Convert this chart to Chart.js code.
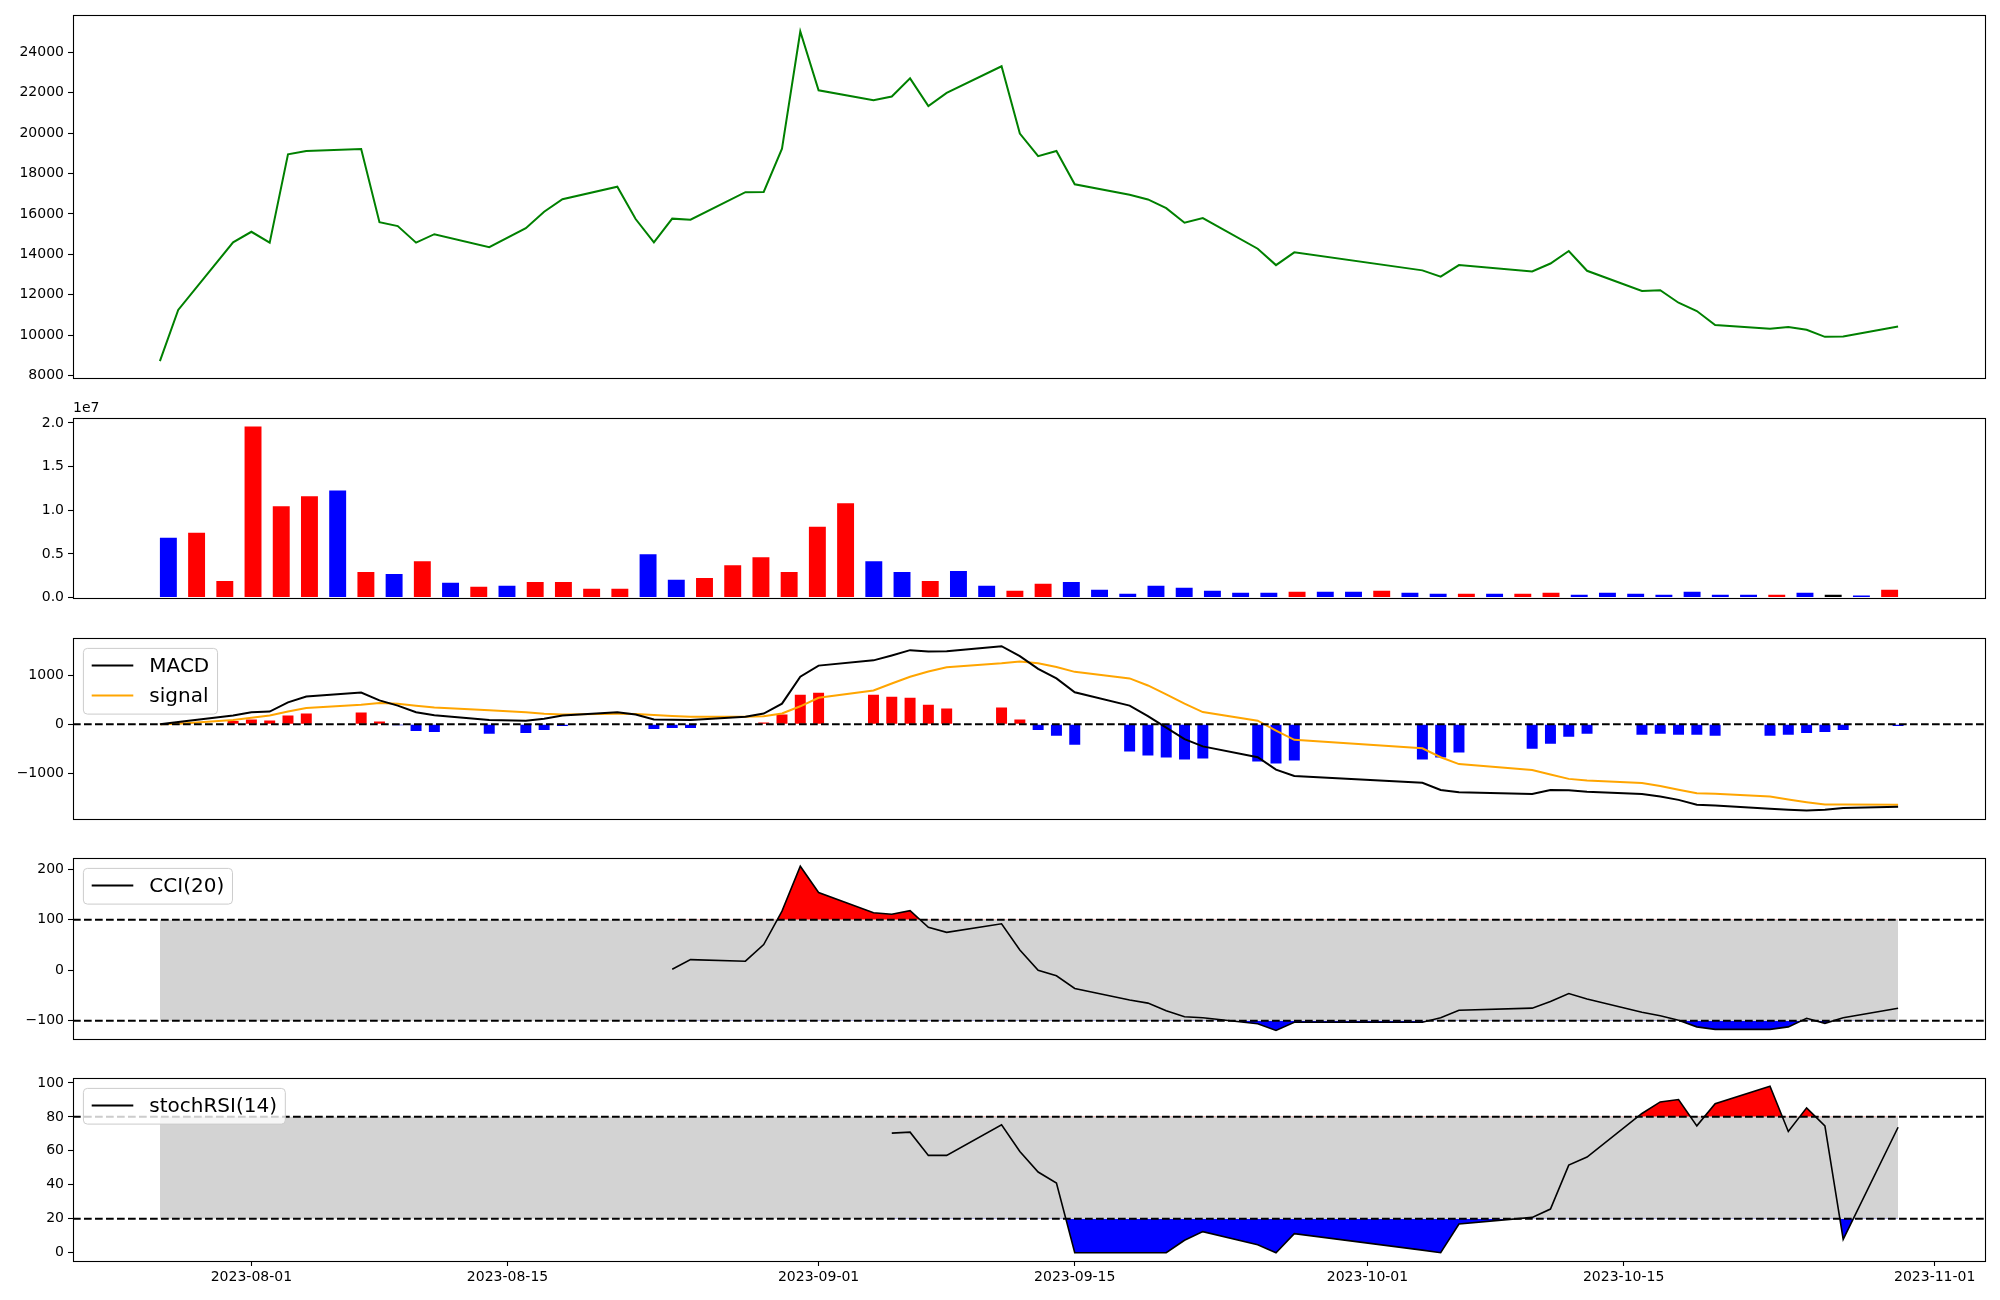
<!DOCTYPE html>
<html>
<head>
<meta charset="utf-8">
<script src="https://cdn.jsdelivr.net/npm/chart.js@4.4.0/dist/chart.umd.min.js"></script>
<style>
html,body{margin:0;padding:0;background:#fff;}
#wrap{position:relative;width:2000px;height:1300px;}
#wrap canvas{position:absolute;left:0;}
</style>
</head>
<body>
<div id="wrap"></div>
<script>

/* ============================= */
/* DATA */
/* ============================= */

const dates = [
"2023-07-27","2023-07-28","2023-07-31","2023-08-01","2023-08-02","2023-08-03","2023-08-04",
"2023-08-07","2023-08-08","2023-08-09","2023-08-10","2023-08-11","2023-08-14","2023-08-16",
"2023-08-17","2023-08-18","2023-08-21","2023-08-22","2023-08-23","2023-08-24","2023-08-25",
"2023-08-28","2023-08-29","2023-08-30","2023-08-31","2023-09-01","2023-09-04","2023-09-05",
"2023-09-06","2023-09-07","2023-09-08","2023-09-11","2023-09-12","2023-09-13","2023-09-14",
"2023-09-15","2023-09-18","2023-09-19","2023-09-20","2023-09-21","2023-09-22","2023-09-25",
"2023-09-26","2023-09-27","2023-10-04","2023-10-05","2023-10-06","2023-10-10","2023-10-11",
"2023-10-12","2023-10-13","2023-10-16","2023-10-17","2023-10-18","2023-10-19","2023-10-20",
"2023-10-23","2023-10-24","2023-10-25","2023-10-26","2023-10-27","2023-10-30"
]

const close = [
8720,11250,14600,15120,14580,18950,19120,
19220,15590,15400,14580,15000,14360,15300,
16110,16730,17350,15750,14590,15770,15720,
17080,17090,19230,25030,22120,21630,21810,
22710,21340,21990,23310,19980,18860,19120,
17470,16950,16720,16290,15570,15800,14280,
13470,14100,13210,12900,13470,13160,13550,
14170,13190,12190,12230,11610,11200,10510,
10320,10410,10270,9920,9940,10430
]

const volume = [
6860000,7430000,1910000,19580000,10470000,11590000,12270000,
2930000,2700000,4160000,1690000,1240000,1350000,1800000,
1800000,1010000,1010000,4950000,2030000,2250000,3710000,
4610000,2930000,8100000,10800000,4160000,2930000,1910000,
3040000,1350000,790000,1580000,1800000,900000,450000,
1350000,1130000,790000,560000,560000,680000,680000,
680000,790000,560000,450000,450000,450000,450000,
560000,340000,560000,450000,340000,680000,340000,
340000,340000,560000,340000,230000,900000
]

// 1 = up day, -1 = down day, 0 = unchanged
const volDir = [
-1,1,1,1,1,1,-1,
1,-1,1,-1,1,-1,1,
1,1,1,-1,-1,1,1,
1,1,1,1,-1,-1,1,
-1,-1,1,1,-1,-1,-1,
-1,-1,-1,-1,-1,1,-1,
-1,1,-1,-1,1,-1,1,
1,-1,-1,-1,-1,-1,-1,
-1,1,-1,0,-1,1
]

const macd = [
0,50,180,247,260,447,567,
647,487,380,247,187,87,73,
113,180,247,200,100,93,87,
153,220,420,967,1193,1300,1400,
1507,1480,1487,1587,1387,1127,933,
653,380,167,-67,-300,-447,-667,
-920,-1047,-1187,-1333,-1380,-1413,-1333,
-1340,-1367,-1413,-1467,-1533,-1633,-1647,
-1713,-1733,-1747,-1733,-1700,-1673
]

const signal = [
0,10,87,133,180,260,333,
400,433,420,380,340,287,245,
213,200,213,210,190,170,153,
153,167,220,367,540,687,830,
967,1073,1160,1240,1275,1240,1166,
1066,933,790,610,420,250,75,
-125,-315,-487,-667,-807,-927,-1020,
-1107,-1140,-1193,-1253,-1327,-1400,-1407,
-1467,-1527,-1580,-1627,-1627,-1633
]

const hist = [
0,40,67,100,80,180,220,
240,60,-20,-133,-153,-193,-173,
-113,-33,13,-7,-93,-73,-73,
0,40,200,600,640,600,560,
540,400,320,340,100,-113,-233,
-413,-553,-633,-673,-713,-693,-753,
-793,-733,-713,-673,-573,-493,-393,
-253,-193,-213,-193,-213,-213,-233,
-233,-213,-173,-153,-113,-33
]

const cci = [
null,null,null,null,null,null,null,
null,null,null,null,null,null,null,
null,null,null,null,null,2,21,
18,51,117,206,154,114,111,
118,85,75,92,40,0,-11,
-36,-59,-65,-80,-92,-94,-106,
-119,-103,-103,-94,-79,-75,-62,
-46,-57,-83,-90,-99,-112,-117,
-117,-112,-95,-105,-94,-75
]

const stoch = [
null,null,null,null,null,null,null,
null,null,null,null,null,null,null,
null,null,null,null,null,null,null,
null,null,null,null,null,null,70.4,
71,57.3,57.3,75.3,59.6,47.5,41,
0,0,0,0,7.3,12.4,4.7,
0,11.2,1.5,0,16.9,20.8,25.7,
51.6,56.3,82,88.8,90.2,74.7,87.8,
98,71.4,85.3,74.7,7.8,73.9
]

const dateTicks = ["2023-08-01","2023-08-15","2023-09-01","2023-09-15","2023-10-01","2023-10-15","2023-11-01"]
const priceTicks = [8000,10000,12000,14000,16000,18000,20000,22000,24000]
const volumeTicks = [0,5000000,10000000,15000000,20000000]
const macdTicks = [-1000,0,1000]
const cciTicks = [-100,0,100,200]
const stochTicks = [0,20,40,60,80,100]
const cciBand = [-100,100]
const stochBand = [20,80]


/* ============================= */
/* HELPERS */
/* ============================= */

Chart.defaults.font.family = "'DejaVu Sans', sans-serif"
Chart.defaults.font.size = 14
Chart.defaults.color = "#000"

const RED = "#ff0000", BLUE = "#0000ff", CLEAR = "rgba(0,0,0,0)"
const DASH = [7.7,3.3]

const toDay = s => { const p = s.split("-"); return Date.UTC(+p[0], +p[1]-1, +p[2]) / 86400000 }
const fromDay = d => new Date(d*86400000).toISOString().slice(0,10)

const xs = dates.map(toDay)
const x0 = xs[0], x1 = xs[xs.length-1]
const xMin = x0 - (x1-x0)*0.05
const xMax = x1 + (x1-x0)*0.05

function pts(arr){
const out = []
arr.forEach((v,i)=>{ if(v!==null) out.push({x:xs[i], y:v}) })
return out
}

function flat(v,a,b){ return [{x:a,y:v},{x:b,y:v}] }

function lim(vals, lo0){
const v = vals.filter(a=>a!==null)
const lo = Math.min(...v), hi = Math.max(...v), m = (hi-lo)*0.05
return [lo0!==undefined ? lo0 : lo-m, hi+m]
}

const minus = v => (v<0 ? "\u2212" : "") + Math.abs(v)

function line(data, color, width, order, extra){
return Object.assign({type:"line", data, borderColor:color, borderWidth:width, pointRadius:0, tension:0, fill:false, order}, extra||{})
}


/* ============================= */
/* FRAME + LEGEND PLUGIN */
/* ============================= */

const framePlugin = {
id:"frame",
afterDraw(chart, args, opt){
const ctx = chart.ctx, a = chart.chartArea
ctx.save()
ctx.strokeStyle = "#000"
ctx.lineWidth = 1.1
ctx.strokeRect(Math.round(a.left)+0.5, Math.round(a.top)+0.5, Math.round(a.right-a.left), Math.round(a.bottom-a.top))

if(opt.offset){
ctx.font = "14px 'DejaVu Sans'"
ctx.fillStyle = "#000"
ctx.textBaseline = "bottom"
ctx.textAlign = "left"
ctx.fillText(opt.offset, a.left, a.top-3)
}

if(opt.legend){
const fs = 20
ctx.font = fs+"px 'DejaVu Sans'"
const tw = Math.max(...opt.legend.map(e=>ctx.measureText(e.label).width))
const bx = a.left + 10.4, by = a.top + 10.4
const bw = 8.3 + 41.6 + 16 + tw + 8.3
const bh = 35.7 + 30*(opt.legend.length-1)
ctx.beginPath()
ctx.roundRect(bx, by, bw, bh, 4)
ctx.fillStyle = "rgba(255,255,255,0.8)"
ctx.fill()
ctx.strokeStyle = "#cccccc"
ctx.lineWidth = 1
ctx.stroke()
opt.legend.forEach((e,i)=>{
const cy = by + 17 + i*30
ctx.beginPath()
ctx.moveTo(bx+8.3, cy)
ctx.lineTo(bx+8.3+41.6, cy)
ctx.strokeStyle = e.color
ctx.lineWidth = 2
ctx.stroke()
ctx.fillStyle = "#000"
ctx.textBaseline = "middle"
ctx.fillText(e.label, bx+8.3+41.6+16, cy+1)
})
}
ctx.restore()
}
}


/* ============================= */
/* PANEL FACTORY */
/* ============================= */

const LEFT = 73, RIGHT = 15
const wrap = document.getElementById("wrap")

function panel(top, bottom, datasets, o){
const padTop = 25
const padBottom = o.showX ? 0 : 10
const axisH = o.showX ? 39 : 0
const cv = document.createElement("canvas")
cv.width = 2000
cv.height = bottom - top + padTop + padBottom + axisH
cv.style.top = (top - padTop) + "px"
wrap.appendChild(cv)

const tickStyle = {drawOnChartArea:false, drawTicks:true, tickLength:5, tickColor:"#000", tickWidth:1.1, offset:false}

return new Chart(cv, {
type:"line",
data:{datasets},
options:{
animation:false,
responsive:false,
devicePixelRatio:1,
layout:{padding:{top:padTop, bottom:padBottom, left:0, right:RIGHT}},
plugins:{legend:{display:false}, tooltip:{enabled:false}, frame:{legend:o.legend, offset:o.offset}},
scales:{
x:{
type:"linear",
offset:false,
min:o.xr[0],
max:o.xr[1],
display:!!o.showX,
grid:tickStyle,
border:{display:false},
afterBuildTicks: ax => { ax.ticks = dateTicks.map(s=>({value:toDay(s)})) },
afterFit: ax => { ax.height = axisH },
ticks:{autoSkip:false, maxRotation:0, padding:3, callback: v => fromDay(v)}
},
y:{
type:"linear",
min:o.yr[0],
max:o.yr[1],
grid:tickStyle,
border:{display:false},
afterBuildTicks: ax => { ax.ticks = o.yt.map(v=>({value:v})) },
afterFit: ax => { ax.width = LEFT },
ticks:{padding:4, callback: o.yf || minus}
}
}
},
plugins:[framePlugin]
})
}


/* ============================= */
/* PRICE */
/* ============================= */

panel(15, 380, [
line(pts(close), "#008000", 2, 1)
], {xr:[xMin,xMax], yr:lim(close), yt:priceTicks})


/* ============================= */
/* VOLUME */
/* ============================= */

const vPts = volume.map((v,i)=>({x:i, y:v}))
const vSpan = (volume.length-1) + 0.6
panel(418, 600, [
{
type:"bar",
data:vPts,
backgroundColor:volDir.map(d=> d>0 ? RED : d<0 ? BLUE : "#000000"),
barPercentage:0.6,
categoryPercentage:1,
order:1
}
], {
xr:[-0.3 - vSpan*0.05, volume.length-1 + 0.3 + vSpan*0.05],
yr:[0, Math.max(...volume)*1.05],
yt:volumeTicks,
yf: v => (v/1e7).toFixed(1),
offset:"1e7"
})


/* ============================= */
/* MACD */
/* ============================= */

panel(638, 821, [
line(flat(0, xMin, xMax), "#000", 2, 0, {borderDash:DASH}),
line(pts(macd), "#000", 2, 1),
line(pts(signal), "#ffa500", 2, 2),
{
type:"bar",
data:pts(hist),
backgroundColor:hist.map(v=> v>=0 ? RED : BLUE),
barPercentage:0.6,
categoryPercentage:1,
order:3
}
], {
xr:[xMin,xMax],
yr:lim(macd.concat(signal, hist)),
yt:macdTicks,
legend:[{label:"MACD", color:"#000"},{label:"signal", color:"#ffa500"}]
})


/* ============================= */
/* CCI */
/* ============================= */

panel(858, 1041, [
line(flat(cciBand[1], xMin, xMax), "#000", 2, 0, {borderDash:DASH}),
line(flat(cciBand[0], xMin, xMax), "#000", 2, 0, {borderDash:DASH}),
line(pts(cci), "#000", 1.6, 1),
line(pts(cci), CLEAR, 0, 3, {fill:{target:{value:cciBand[1]}, above:RED, below:CLEAR}}),
line(pts(cci), CLEAR, 0, 3, {fill:{target:{value:cciBand[0]}, above:CLEAR, below:BLUE}}),
line(flat(cciBand[1], x0, x1), CLEAR, 0, 5, {fill:"+1", backgroundColor:"#d3d3d3"}),
line(flat(cciBand[0], x0, x1), CLEAR, 0, 6)
], {
xr:[xMin,xMax],
yr:lim(cci.concat(cciBand)),
yt:cciTicks,
legend:[{label:"CCI(20)", color:"#000"}]
})


/* ============================= */
/* STOCH RSI */
/* ============================= */

panel(1078, 1261, [
line(flat(stochBand[1], xMin, xMax), "#000", 2, 0, {borderDash:DASH}),
line(flat(stochBand[0], xMin, xMax), "#000", 2, 0, {borderDash:DASH}),
line(pts(stoch), "#000", 1.6, 1),
line(pts(stoch), CLEAR, 0, 3, {fill:{target:{value:stochBand[1]}, above:RED, below:CLEAR}}),
line(pts(stoch), CLEAR, 0, 3, {fill:{target:{value:stochBand[0]}, above:CLEAR, below:BLUE}}),
line(flat(stochBand[1], x0, x1), CLEAR, 0, 5, {fill:"+1", backgroundColor:"#d3d3d3"}),
line(flat(stochBand[0], x0, x1), CLEAR, 0, 6)
], {
xr:[xMin,xMax],
yr:lim(stoch.concat(stochBand)),
yt:stochTicks,
legend:[{label:"stochRSI(14)", color:"#000"}],
showX:true
})

</script>
</body>
</html>
